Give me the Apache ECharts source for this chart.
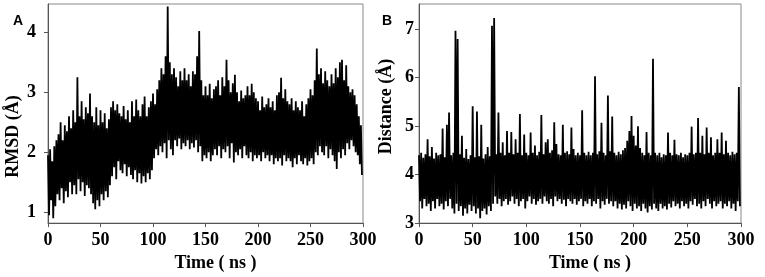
<!DOCTYPE html>
<html>
<head>
<meta charset="utf-8">
<script src="https://cdn.jsdelivr.net/npm/echarts@6/dist/echarts.min.js"></script>
<style>
  html, body { margin: 0; padding: 0; background: #fff; }
  #chart { width: 765px; height: 277px; }
</style>
</head>
<body>
<div id="chart"></div>
<script>
// time step between two samples (ns); highs at even t, lows at odd t
var step = 1
var timeTicks = [0, 50, 100, 150, 200, 250, 300]
var rmsdTicks = [1, 2, 3, 4]
var distTicks = [3, 4, 5, 6, 7]

// A: RMSD upper / lower envelope, every 2 ns
var rmsdHigh = [
    1.95, 2.05, 1.85, 2.1, 2.2, 2.3, 2.5, 2.2, 2.45, 2.35,
    2.6, 2.4, 2.7, 2.5, 3.25, 2.6, 2.85, 2.55, 2.75, 2.65,
    2.98, 2.6, 2.5, 2.75, 2.45, 2.7, 2.5, 2.65, 2.4, 2.55,
    2.75, 2.85, 2.7, 2.8, 2.65, 2.6, 2.77, 2.55, 2.7, 2.5,
    2.85, 2.6, 2.88, 2.7, 2.6, 2.8, 2.93, 2.6, 2.75, 2.85,
    2.98, 2.8, 3.05, 3.2, 3.4, 3.3, 3.6, 4.43, 3.5, 3.3,
    3.4, 3.25, 3.1, 3.35, 3.2, 3.4, 3.2, 3.3, 3.1, 3.35,
    3.3, 3.6, 4.02, 3.2, 2.95, 3.1, 2.95, 3.14, 2.9, 3.05,
    3.1, 3.2, 2.95, 3.25, 3.1, 3.54, 3.2, 3.0, 3.15, 3.29,
    3.0, 2.85, 3.03, 2.9, 2.95, 3.1, 2.95, 3.14, 3.0, 2.9,
    2.85, 2.7, 2.93, 2.75, 2.8, 2.9, 2.75, 2.85, 2.7, 2.95,
    3.0, 3.24, 2.9, 3.05, 2.85, 2.8, 2.9, 2.7, 2.85, 2.75,
    2.7, 2.85, 2.6, 2.8, 2.9, 3.05, 2.95, 3.2, 3.73, 3.3,
    3.4, 3.15, 3.35, 3.2, 3.1, 3.3, 3.15, 3.4, 3.25, 3.5,
    3.54, 3.2, 3.45, 3.1, 3.0, 3.05, 2.95, 2.8, 2.6, 2.45
]
var rmsdLow = [
    0.95, 1.2, 0.9, 1.1, 1.3, 1.2, 1.4, 1.15, 1.35, 1.25,
    1.5, 1.3, 1.45, 1.3, 1.55, 1.35, 1.5, 1.27, 1.45, 1.4,
    1.3, 1.15, 1.05, 1.2, 1.1, 1.3, 1.2, 1.35, 1.25, 1.45,
    1.6, 1.75, 1.55, 1.85, 1.7, 1.65, 1.8, 1.6, 1.75, 1.62,
    1.55, 1.7, 1.5, 1.65, 1.48, 1.6, 1.5, 1.65, 1.55, 1.7,
    1.9, 2.05, 1.95, 2.1, 2.0, 2.15, 1.9, 2.2, 2.05, 1.95,
    2.2, 2.1, 2.23, 2.05, 2.15, 2.1, 2.2, 2.05, 2.15, 2.08,
    2.2, 2.0, 2.1, 1.85, 1.95, 1.9, 2.0, 1.85, 1.95, 2.05,
    1.95, 2.1, 1.9, 2.05, 2.0, 2.1, 1.9, 2.15, 1.83, 2.0,
    1.95, 2.05, 1.9, 2.1, 1.95, 1.9, 2.0, 1.85, 1.95, 1.9,
    1.95, 1.85, 2.0, 1.9, 1.95, 1.85, 1.95, 1.8, 1.9, 1.85,
    1.9, 1.78, 1.95, 1.85, 1.9, 1.85, 1.75, 1.9, 1.8, 1.95,
    1.85, 1.8, 1.9, 1.78, 1.85, 1.9, 1.8, 2.0, 1.95, 2.1,
    2.0, 1.95, 2.1, 1.9, 2.05, 1.95, 1.85, 1.72, 2.0, 1.9,
    2.05, 1.95, 2.15, 2.05, 2.2, 2.1, 2.0, 1.95, 1.8, 1.62
]

// B: distance upper envelope (with spikes) / lower envelope, every 2 ns
var distHigh = [
    4.4, 4.45, 4.35, 4.42, 4.73, 4.38, 4.57, 4.33, 4.45, 4.4,
    4.42, 4.95, 4.36, 5.03, 5.28, 4.4, 4.45, 6.97, 6.8, 4.42,
    4.8, 4.35, 4.53, 4.32, 4.4, 5.41, 4.36, 5.3, 4.38, 5.03,
    4.33, 4.42, 4.57, 4.38, 7.07, 7.23, 4.42, 5.28, 4.45, 4.67,
    4.4, 4.9, 4.45, 4.88, 4.42, 4.73, 4.45, 5.25, 4.4, 4.83,
    4.45, 4.4, 4.87, 4.45, 4.6, 4.4, 4.47, 5.23, 4.42, 4.67,
    4.73, 4.45, 4.5, 5.08, 4.63, 4.42, 4.4, 5.03, 4.45, 4.48,
    4.42, 4.97, 4.53, 4.4, 4.45, 4.4, 5.33, 4.45, 4.4, 4.47,
    4.4, 4.45, 6.03, 4.42, 4.48, 5.07, 4.45, 4.4, 5.63, 4.48,
    5.2, 4.45, 4.4, 4.47, 4.42, 4.5, 4.55, 4.7, 4.9, 5.21,
    4.8, 4.6, 5.0, 4.55, 4.45, 4.4, 4.88, 4.45, 4.4, 6.39,
    4.45, 4.4, 4.45, 4.36, 4.42, 4.4, 4.87, 4.45, 4.4, 4.72,
    4.42, 4.4, 4.45, 4.36, 4.42, 4.4, 4.45, 4.99, 4.42, 4.45,
    5.17, 4.45, 4.8, 4.42, 4.97, 4.45, 4.77, 4.4, 4.45, 4.73,
    4.45, 4.87, 4.42, 4.7, 4.45, 4.4, 4.47, 4.42, 4.45, 5.81
]
var distLow = [
    3.45, 3.3, 3.5, 3.35, 3.4, 3.25, 3.45, 3.3, 3.5, 3.35,
    3.4, 3.28, 3.45, 3.35, 3.5, 3.3, 3.2, 3.4, 3.25, 3.35,
    3.15, 3.3, 3.2, 3.38, 3.25, 3.35, 3.2, 3.3, 3.1, 3.25,
    3.3, 3.18, 3.35, 3.25, 3.4, 3.55, 3.4, 3.5, 3.35, 3.45,
    3.5, 3.38, 3.45, 3.55, 3.4, 3.5, 3.35, 3.45, 3.5, 3.3,
    3.45, 3.55, 3.4, 3.5, 3.38, 3.45, 3.5, 3.4, 3.55, 3.45,
    3.4, 3.5, 3.35, 3.55, 3.45, 3.5, 3.4, 3.48, 3.35, 3.5,
    3.45, 3.4, 3.5, 3.38, 3.45, 3.5, 3.35, 3.45, 3.4, 3.5,
    3.35, 3.45, 3.4, 3.5, 3.3, 3.45, 3.38, 3.5, 3.4, 3.45,
    3.35, 3.45, 3.3, 3.4, 3.28, 3.38, 3.3, 3.45, 3.35, 3.25,
    3.4, 3.3, 3.35, 3.25, 3.4, 3.3, 3.22, 3.35, 3.28, 3.4,
    3.3, 3.25, 3.4, 3.3, 3.35, 3.28, 3.4, 3.32, 3.45, 3.35,
    3.4, 3.3, 3.45, 3.35, 3.4, 3.3, 3.45, 3.38, 3.5, 3.35,
    3.4, 3.3, 3.45, 3.35, 3.5, 3.4, 3.3, 3.45, 3.35, 3.4,
    3.45, 3.3, 3.4, 3.35, 3.45, 3.3, 3.4, 3.25, 3.45, 3.35
]

function zigzag(high, low) {
    var out = []
    for (var i = 0; i < high.length; i++) {
        out.push([i * 2 * step, high[i]])
        out.push([(i * 2 + 1) * step, low[i]])
    }
    return out
}

var serif = 'Liberation Serif'
var axisColor = '#555'

function xAxisOf(idx) {
    return {
        gridIndex: idx,
        type: 'value',
        min: 0,
        max: 300,
        name: 'Time ( ns )',
        nameLocation: 'middle',
        nameGap: 24,
        nameTextStyle: { color: '#000', fontFamily: serif, fontWeight: 'bold', fontSize: 18, padding: [0, 0, 0, 20] },
        axisLine: { lineStyle: { color: axisColor } },
        axisTick: { inside: false, length: 4, customValues: timeTicks, lineStyle: { color: axisColor } },
        axisLabel: { customValues: timeTicks, margin: 8, color: '#000', fontFamily: serif, fontWeight: 'bold', fontSize: 18 },
        splitLine: { show: false },
    }
}

var chart = echarts.init(document.getElementById('chart'))
var option = {
    animation: false,
    title: [
        { text: 'A', left: 8, top: 9, textStyle: { fontFamily: 'Liberation Sans', fontWeight: 'bold', fontSize: 14, color: '#000' } },
        { text: 'B', left: 377, top: 9, textStyle: { fontFamily: 'Liberation Sans', fontWeight: 'bold', fontSize: 14, color: '#000' } },
    ],
    grid: [
        { left: 48, top: 4, width: 315, height: 226, show: true, borderColor: '#888', borderWidth: 1 },
        { left: 419, top: 4, width: 322, height: 226, show: true, borderColor: '#888', borderWidth: 1 },
    ],
    xAxis: [xAxisOf(0), xAxisOf(1)],
    yAxis: [
        {
            gridIndex: 0,
            type: 'value',
            min: 0.82,
            max: 4.47,
            name: 'RMSD (Å)',
            nameLocation: 'middle',
            nameGap: 26,
            nameTextStyle: { color: '#000', fontFamily: serif, fontWeight: 'bold', fontSize: 18, padding: [0, 46, 0, 0] },
            axisLine: { show: true, lineStyle: { color: axisColor } },
            axisTick: { show: true, length: 4, customValues: rmsdTicks, lineStyle: { color: axisColor } },
            axisLabel: { customValues: rmsdTicks, margin: 12, color: '#000', fontFamily: serif, fontWeight: 'bold', fontSize: 18 },
            splitLine: { show: false },
        },
        {
            gridIndex: 1,
            type: 'value',
            min: 3,
            max: 7.52,
            name: 'Distance (Å)',
            nameLocation: 'middle',
            nameGap: 24,
            nameTextStyle: { color: '#000', fontFamily: serif, fontWeight: 'bold', fontSize: 18, padding: [0, 0, 0, 14] },
            axisLine: { show: true, lineStyle: { color: axisColor } },
            axisTick: { show: true, length: 4, customValues: distTicks, lineStyle: { color: axisColor } },
            axisLabel: { customValues: distTicks, margin: 5, color: '#000', fontFamily: serif, fontWeight: 'bold', fontSize: 18 },
            splitLine: { show: false },
        },
    ],
    series: [
        {
            type: 'line',
            xAxisIndex: 0,
            yAxisIndex: 0,
            showSymbol: false,
            symbol: 'none',
            lineStyle: { color: '#000', width: 1.8 },
            data: zigzag(rmsdHigh, rmsdLow),
        },
        {
            type: 'line',
            xAxisIndex: 1,
            yAxisIndex: 1,
            showSymbol: false,
            symbol: 'none',
            lineStyle: { color: '#000', width: 1.8 },
            data: zigzag(distHigh, distLow),
        },
    ],
}
option && chart.setOption(option)
</script>
</body>
</html>
